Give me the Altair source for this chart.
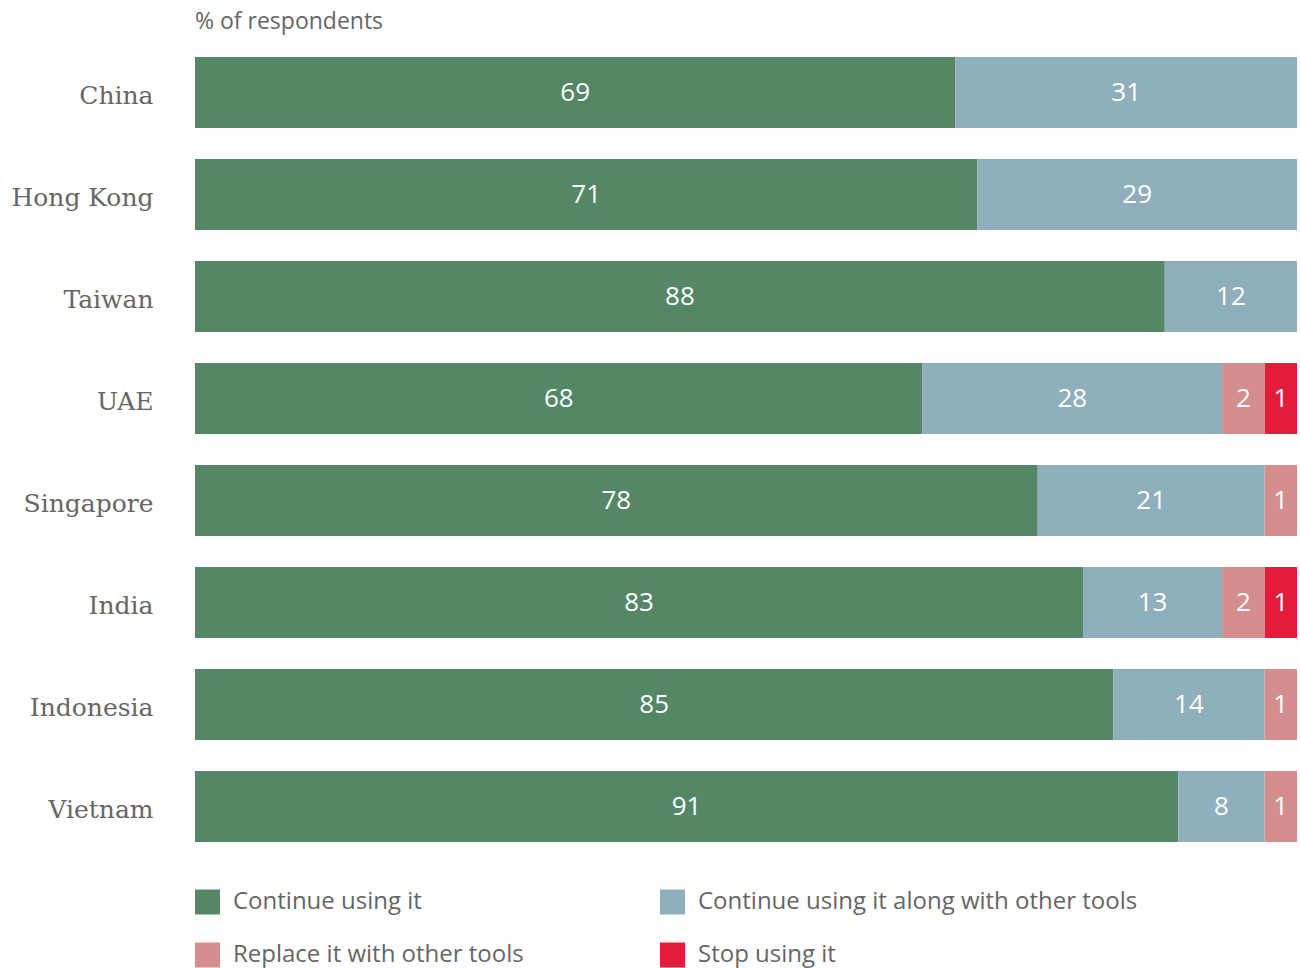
import altair as alt
import pandas as pd

countries = ["China", "Hong Kong", "Taiwan", "UAE", "Singapore", "India", "Indonesia", "Vietnam"]
categories = ["Continue using it", "Continue using it along with other tools",
              "Replace it with other tools", "Stop using it"]
colors = ["#548766", "#90AFBC", "#D58E8E", "#E31C3A"]

continue_using = [69, 71, 88, 68, 78, 83, 85, 91]
continue_with_other = [31, 29, 12, 28, 21, 13, 14, 8]
replace_it = [0, 0, 0, 2, 1, 2, 1, 1]
stop_using = [0, 0, 0, 1, 0, 1, 0, 0]

series = [continue_using, continue_with_other, replace_it, stop_using]
rows = []
for ci, c in enumerate(countries):
    for k, cat in enumerate(categories):
        v = series[k][ci]
        if v > 0:
            rows.append({"country": c, "category": cat, "value": v, "order": k})
df = pd.DataFrame(rows)

# tiny segments are drawn a little wider (as in the original) so their labels fit
base = alt.Chart(df).transform_calculate(
    disp="datum.value < 3 ? datum.value + 2 : datum.value"
).transform_stack(
    stack="disp", groupby=["country"], as_=["v0", "v1"],
    offset="normalize", sort=[alt.SortField("order", "ascending")]
).transform_calculate(mid="(datum.v0 + datum.v1) / 2")

y = alt.Y("country:N", sort=countries, title=None,
          scale=alt.Scale(paddingInner=0.304, paddingOuter=0.152),
          axis=alt.Axis(domain=False, ticks=False, labelFont="DejaVu Serif",
                        labelFontSize=25, labelColor="#666666", labelPadding=42,
                        labelOffset=3))

bars = base.mark_bar().encode(
    x=alt.X("v0:Q", axis=None, scale=alt.Scale(domain=[0, 1], nice=False)),
    x2="v1:Q",
    y=y,
    color=alt.Color("category:N", sort=categories,
                    scale=alt.Scale(domain=categories, range=colors),
                    legend=alt.Legend(title=None, orient="bottom", direction="horizontal",
                                      columns=2, symbolType="square", symbolSize=625,
                                      symbolStrokeWidth=0, symbolOpacity=1,
                                      labelFont="Open Sans", labelFontSize=24,
                                      labelColor="#666666", labelOffset=13,
                                      columnPadding=136, rowPadding=28, offset=32,
                                      labelLimit=600)),
)

texts = base.mark_text(color="white", font="Open Sans", fontSize=26).encode(
    x="mid:Q",
    y=alt.Y("country:N", sort=countries),
    text="value:Q",
)

chart = alt.layer(bars, texts).properties(
    width=1102, height=816,
    title=alt.TitleParams("% of respondents", anchor="start", frame="group",
                          font="Open Sans", fontSize=23, fontWeight="normal",
                          color="#666666", offset=8),
    autosize=alt.AutoSizeParams(type="none"),
    padding={"left": 195, "top": 41.5, "right": 3, "bottom": 110},
).configure_view(stroke=None)

chart.save("out.html", embed_options={"renderer": "svg", "actions": False})
